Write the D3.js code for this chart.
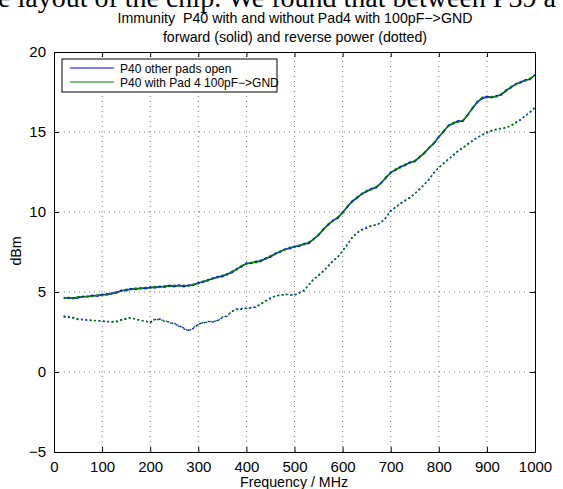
<!DOCTYPE html>
<html>
<head>
<meta charset="utf-8">
<script src="https://cdn.jsdelivr.net/npm/d3@7"></script>
<style>
  html, body { margin: 0; padding: 0; background: #fff; overflow: hidden; }
  svg { display: block; }
  text { white-space: pre; }
</style>
</head>
<body>
<svg id="chart" width="563" height="489"></svg>
<script>
const titleLines = ["Immunity  P40 with and without Pad4 with 100pF\u2212>GND", "forward (solid) and reverse power (dotted)"];
const pageText = "e layout of the chip. We found that between P39 a";
const xLabel = "Frequency / MHz";
const yLabel = "dBm";
const seriesNames = ["P40 other pads open", "P40 with Pad 4 100pF\u2212>GND"];
const xTicks = [0, 100, 200, 300, 400, 500, 600, 700, 800, 900, 1000];
const yTicks = [-5, 0, 5, 10, 15, 20];

const freq = [20,30,40,50,60,70,80,90,100,110,120,130,140,150,160,170,180,190,200,210,220,230,240,250,260,270,280,290,300,310,320,330,340,350,360,370,380,390,400,410,420,430,440,450,460,470,480,490,500,510,520,530,540,550,560,570,580,590,600,610,620,630,640,650,660,670,680,690,700,710,720,730,740,750,760,770,780,790,800,810,820,830,840,850,860,870,880,890,900,910,920,930,940,950,960,970,980,990,1000];

const blueForward = [4.66,4.60,4.64,4.62,4.74,4.68,4.80,4.73,4.86,4.81,4.95,4.93,5.12,5.07,5.22,5.15,5.27,5.20,5.31,5.25,5.37,5.30,5.43,5.33,5.44,5.33,5.44,5.41,5.60,5.60,5.77,5.80,5.97,5.95,6.15,6.20,6.47,6.57,6.82,6.77,6.92,6.90,7.13,7.17,7.43,7.47,7.70,7.70,7.87,7.85,8.03,8.03,8.35,8.53,8.95,9.17,9.50,9.60,10.00,10.30,10.70,10.85,11.17,11.25,11.47,11.50,11.85,12.10,12.50,12.60,12.85,12.90,13.13,13.13,13.47,13.65,14.05,14.27,14.73,15.00,15.43,15.50,15.70,15.65,16.10,16.45,16.90,17.07,17.23,17.13,17.27,17.30,17.63,17.75,18.03,18.07,18.27,18.27,18.60];

const greenForward = [4.58,4.68,4.57,4.72,4.66,4.76,4.71,4.83,4.78,4.91,4.86,5.03,5.04,5.17,5.14,5.25,5.18,5.30,5.23,5.35,5.28,5.40,5.34,5.42,5.36,5.43,5.36,5.50,5.51,5.70,5.68,5.90,5.88,6.05,6.06,6.30,6.38,6.67,6.73,6.87,6.83,7.00,7.04,7.27,7.34,7.57,7.61,7.80,7.78,7.95,7.94,8.13,8.26,8.63,8.86,9.27,9.41,9.70,9.91,10.40,10.61,10.95,11.08,11.35,11.38,11.60,11.76,12.20,12.41,12.70,12.76,13.00,13.04,13.23,13.38,13.75,13.96,14.37,14.64,15.10,15.34,15.60,15.61,15.75,16.01,16.55,16.81,17.17,17.14,17.23,17.18,17.40,17.54,17.85,17.94,18.17,18.18,18.37,18.54];

const blueReverse = [3.50,3.42,3.41,3.27,3.31,3.22,3.25,3.17,3.21,3.13,3.17,3.12,3.28,3.30,3.41,3.27,3.25,3.15,3.11,3.27,3.31,3.17,3.13,2.99,2.91,2.70,2.61,2.72,3.01,3.05,3.16,3.12,3.23,3.39,3.53,3.77,3.95,3.92,4.01,3.99,4.09,4.22,4.47,4.59,4.78,4.77,4.88,4.80,4.83,4.92,5.13,5.42,5.83,6.02,6.33,6.59,6.97,7.16,7.59,7.95,8.43,8.67,8.91,8.99,9.16,9.17,9.36,9.62,10.09,10.27,10.55,10.69,10.93,11.12,11.45,11.70,12.07,12.43,12.80,13.02,13.32,13.52,13.84,13.99,14.26,14.42,14.68,14.79,14.99,15.05,15.20,15.19,15.30,15.37,15.61,15.75,16.03,16.22,16.55];

const greenReverse = [3.42,3.49,3.35,3.34,3.24,3.29,3.19,3.24,3.15,3.19,3.11,3.19,3.22,3.37,3.35,3.34,3.19,3.22,3.05,3.33,3.25,3.24,3.07,3.05,2.85,2.76,2.55,2.79,2.95,3.11,3.10,3.18,3.17,3.45,3.47,3.83,3.89,3.98,3.95,4.05,4.03,4.28,4.41,4.65,4.72,4.83,4.82,4.86,4.77,4.98,5.07,5.48,5.77,6.08,6.27,6.65,6.91,7.22,7.53,8.01,8.37,8.73,8.85,9.05,9.10,9.23,9.30,9.68,10.03,10.33,10.49,10.75,10.87,11.18,11.39,11.76,12.01,12.49,12.74,13.08,13.26,13.58,13.78,14.05,14.20,14.48,14.62,14.85,14.93,15.11,15.14,15.25,15.24,15.43,15.55,15.81,15.97,16.28,16.49];

const colors = ["#0000ff", "#008000"];

const svg = d3.select("#chart");
const W = 563, H = 489;
const m = {left: 54, right: 28, top: 52, bottom: 37};
const x = d3.scaleLinear().domain([0, 1000]).range([m.left, W - m.right]);
const y = d3.scaleLinear().domain([-5, 20]).range([H - m.bottom, m.top]);
const font = "'Liberation Sans', Arial, Helvetica, sans-serif";

// clipped page text at top
svg.append("text")
  .attr("x", -2).attr("y", 6.5)
  .attr("font-family", "'Liberation Serif', 'Times New Roman', serif")
  .attr("font-size", 28)
  .attr("fill", "#000")
  .text(pageText);

// grid
const grid = svg.append("g");
grid.selectAll("line.gx").data(xTicks.slice(1, -1)).join("line")
  .attr("x1", d => x(d)).attr("x2", d => x(d))
  .attr("y1", y(-5)).attr("y2", y(20))
  .attr("stroke", "#555").attr("stroke-width", 0.8).attr("stroke-dasharray", "1,4");
grid.selectAll("line.gy").data(yTicks.slice(1, -1)).join("line")
  .attr("y1", d => y(d)).attr("y2", d => y(d))
  .attr("x1", x(0)).attr("x2", x(1000))
  .attr("stroke", "#555").attr("stroke-width", 0.8).attr("stroke-dasharray", "1,4");

// data lines
const line = d3.line().x((d, i) => x(freq[i])).y(d => y(d));
const plot = svg.append("g");
[[blueForward, blueReverse, colors[0]], [greenForward, greenReverse, colors[1]]].forEach(([f, r, c]) => {
  plot.append("path").datum(f).attr("d", line)
    .attr("fill", "none").attr("stroke", c).attr("stroke-width", 1.3);
  plot.append("path").datum(r).attr("d", line)
    .attr("fill", "none").attr("stroke", c).attr("stroke-width", 1.3).attr("stroke-dasharray", "2,2.5");
});

// axes
const fmt = d => d < 0 ? "\u2212" + Math.abs(d) : String(d);
const xAxis = svg.append("g").attr("transform", `translate(0,${y(-5)})`)
  .call(d3.axisBottom(x).tickValues(xTicks).tickSizeInner(-5).tickSizeOuter(0).tickPadding(9).tickFormat(fmt));
const xAxisTop = svg.append("g").attr("transform", `translate(0,${y(20)})`)
  .call(d3.axisTop(x).tickValues(xTicks).tickSizeInner(-5).tickSizeOuter(0).tickFormat(""));
const yAxis = svg.append("g").attr("transform", `translate(${x(0)},0)`)
  .call(d3.axisLeft(y).tickValues(yTicks).tickSizeInner(-5).tickSizeOuter(0).tickPadding(8).tickFormat(fmt));
const yAxisRight = svg.append("g").attr("transform", `translate(${x(1000)},0)`)
  .call(d3.axisRight(y).tickValues(yTicks).tickSizeInner(-5).tickSizeOuter(0).tickFormat(""));
[xAxis, xAxisTop, yAxis, yAxisRight].forEach(g => {
  g.selectAll("path.domain").attr("stroke", "#000").attr("stroke-width", 1);
  g.selectAll(".tick line").attr("stroke", "#000");
  g.selectAll("text").attr("font-family", font).attr("font-size", 15).attr("fill", "#000");
});

// titles
svg.append("text").attr("x", 295).attr("y", 22.5).attr("text-anchor", "middle")
  .attr("font-family", font).attr("font-size", 14.2).text(titleLines[0]);
svg.append("text").attr("x", 295).attr("y", 41.5).attr("text-anchor", "middle")
  .attr("font-family", font).attr("font-size", 14.2).text(titleLines[1]);
svg.append("text").attr("x", 294).attr("y", 487).attr("text-anchor", "middle")
  .attr("font-family", font).attr("font-size", 14.2).text(xLabel);
svg.append("text").attr("transform", `translate(21,251) rotate(-90)`).attr("text-anchor", "middle")
  .attr("font-family", font).attr("font-size", 14.2).text(yLabel);

// legend
const lg = svg.append("g");
lg.append("rect").attr("x", 62).attr("y", 59).attr("width", 215).attr("height", 33)
  .attr("fill", "#fff").attr("stroke", "#000").attr("stroke-width", 1);
seriesNames.forEach((name, i) => {
  const ly = 68 + i * 14;
  lg.append("line").attr("x1", 70).attr("x2", 114).attr("y1", ly).attr("y2", ly)
    .attr("stroke", colors[i]).attr("stroke-width", 1.2);
  lg.append("text").attr("x", 120).attr("y", ly + 4.5)
    .attr("font-family", font).attr("font-size", 12).text(name);
});
</script>
</body>
</html>
